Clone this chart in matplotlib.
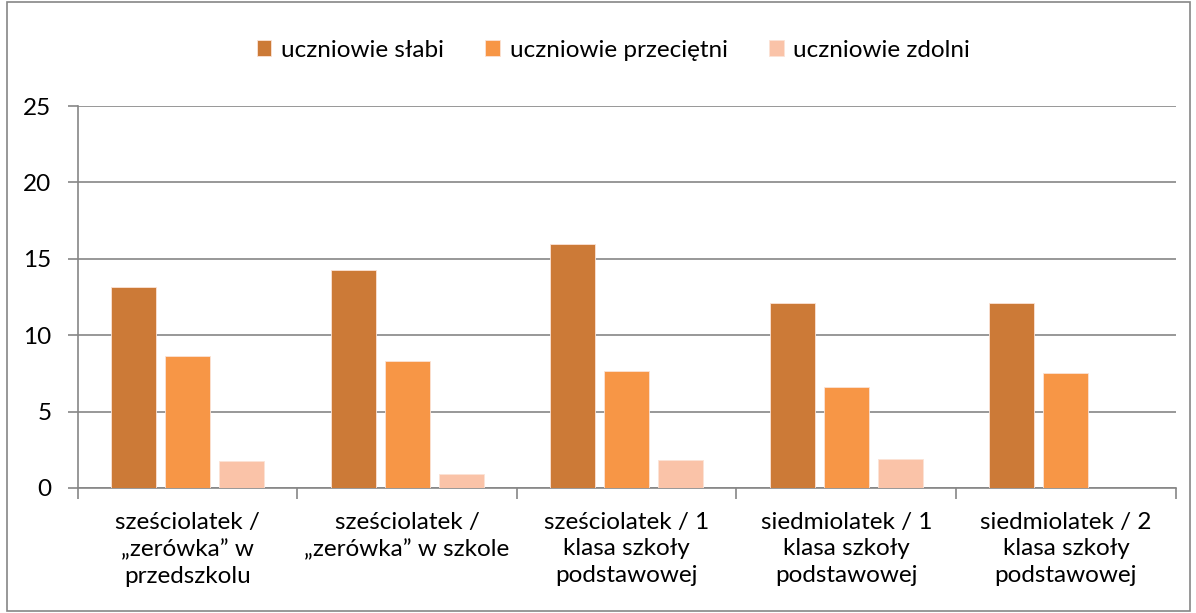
import numpy as np
import matplotlib.pyplot as plt
from matplotlib.patches import Rectangle

plt.rcParams['font.family'] = ['Lato', 'DejaVu Sans']

categories = ['sześciolatek /\n„zerówka” w\nprzedszkolu',
              'sześciolatek /\n„zerówka” w szkole',
              'sześciolatek / 1\nklasa szkoły\npodstawowej',
              'siedmiolatek / 1\nklasa szkoły\npodstawowej',
              'siedmiolatek / 2\nklasa szkoły\npodstawowej']
series = ['uczniowie słabi', 'uczniowie przeciętni', 'uczniowie zdolni']
slabi = [13.15, 14.27, 16.0, 12.09, 12.09]
przecietni = [8.62, 8.29, 7.64, 6.61, 7.53]
zdolni = [1.77, 0.94, 1.83, 1.90, 0.0]
colors = ['#CC7A37', '#F79646', '#FAC3A8']

fig = plt.figure(figsize=(11.96, 6.13), dpi=100)
ax = fig.add_axes([0.065, 0.204, 0.918, 0.623])

x = np.arange(len(categories))
w = 0.205
step = 0.246
for i, (vals, lab) in enumerate(zip([slabi, przecietni, zdolni], series)):
    ax.bar(x + (i - 1) * step, vals, w, color=colors[i], label=lab,
           edgecolor='#FBE3D6', linewidth=0.6, zorder=3)

grid_c = '#868686'
fs = 17.5
ax.set_xlim(-0.5, len(categories) - 0.5)
ax.set_ylim(0, 25)
ax.set_yticks(np.arange(0, 26, 5))
ax.yaxis.grid(True, color=grid_c, linewidth=1.2, zorder=0)
ax.tick_params(axis='y', length=7, width=1.2, color=grid_c, labelsize=fs, pad=12)
ax.set_xticks(x)
ax.set_xticklabels(categories, fontsize=fs, linespacing=1.33)
ax.tick_params(axis='x', length=0, labelsize=fs, pad=17)
ax.set_xticks(np.arange(-0.5, len(categories)), minor=True)
ax.tick_params(axis='x', which='minor', length=8, width=1.2, color=grid_c)
for s in ['top', 'right']:
    ax.spines[s].set_visible(False)
for s in ['left', 'bottom']:
    ax.spines[s].set_color(grid_c)
    ax.spines[s].set_linewidth(1.2)

ax.legend(loc='center', bbox_to_anchor=(0.513, 0.918), bbox_transform=fig.transFigure,
          ncol=3, frameon=False, fontsize=fs, handlelength=0.6, handleheight=0.6,
          handletextpad=0.4, columnspacing=1.7)

fig.patches.append(Rectangle((0.006, 0.003), 0.989, 0.994, transform=fig.transFigure,
                             fill=False, edgecolor='#868686', linewidth=1.2))

fig.savefig('out.png', dpi=100)
